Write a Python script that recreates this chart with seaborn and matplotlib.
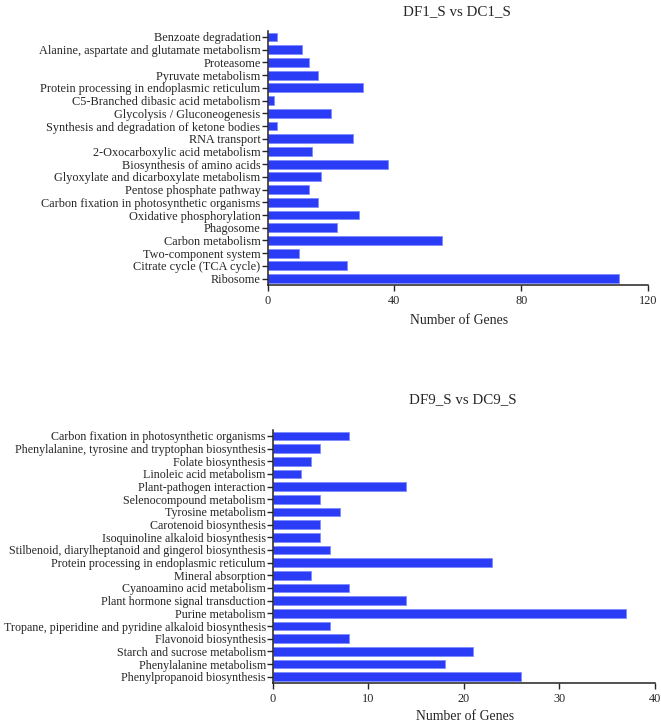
import matplotlib
matplotlib.use("Agg")
import pandas as pd
import seaborn as sns
import matplotlib.pyplot as plt

# top panel: DF1_S vs DC1_S (listed top to bottom)
top_terms = ["Benzoate degradation", "Alanine, aspartate and glutamate metabolism", "Proteasome",
             "Pyruvate metabolism", "Protein processing in endoplasmic reticulum",
             "C5-Branched dibasic acid metabolism", "Glycolysis / Gluconeogenesis",
             "Synthesis and degradation of ketone bodies", "RNA transport",
             "2-Oxocarboxylic acid metabolism", "Biosynthesis of amino acids",
             "Glyoxylate and dicarboxylate metabolism", "Pentose phosphate pathway",
             "Carbon fixation in photosynthetic organisms", "Oxidative phosphorylation",
             "Phagosome", "Carbon metabolism", "Two-component system",
             "Citrate cycle (TCA cycle)", "Ribosome"]
top_counts = [3, 11, 13, 16, 30, 2, 20, 3, 27, 14, 38, 17, 13, 16, 29, 22, 55, 10, 25, 111]

# bottom panel: DF9_S vs DC9_S
bot_terms = ["Carbon fixation in photosynthetic organisms",
             "Phenylalanine, tyrosine and tryptophan biosynthesis", "Folate biosynthesis",
             "Linoleic acid metabolism", "Plant-pathogen interaction", "Selenocompound metabolism",
             "Tyrosine metabolism", "Carotenoid biosynthesis", "Isoquinoline alkaloid biosynthesis",
             "Stilbenoid, diarylheptanoid and gingerol biosynthesis",
             "Protein processing in endoplasmic reticulum", "Mineral absorption",
             "Cyanoamino acid metabolism", "Plant hormone signal transduction", "Purine metabolism",
             "Tropane, piperidine and pyridine alkaloid biosynthesis", "Flavonoid biosynthesis",
             "Starch and sucrose metabolism", "Phenylalanine metabolism",
             "Phenylpropanoid biosynthesis"]
bot_counts = [8, 5, 4, 3, 14, 5, 7, 5, 5, 6, 23, 4, 8, 14, 37, 6, 8, 21, 18, 26]

sns.set_style("ticks")
plt.rcParams['font.family'] = ['Liberation Serif', 'DejaVu Serif']

BLUE = "#2b3cf6"

fig = plt.figure(figsize=(6.61, 7.24), dpi=100)
ax1 = fig.add_axes([0.4047, 0.6064, 0.5756, 0.3513])
ax2 = fig.add_axes([0.4126, 0.0566, 0.5776, 0.3500])


def draw(ax, terms, counts, xmax, ticks, ysize):
    df = pd.DataFrame({"term": terms, "n": counts})
    sns.barplot(data=df, x="n", y="term", orient="h", color=BLUE, width=0.7,
                edgecolor="#7f8cff", linewidth=0.6, saturation=1, ax=ax)
    ax.set_xlim(0, xmax)
    ax.set_ylim(len(terms) - 0.5, -0.5)
    ax.set_xticks(ticks)
    ax.set_xlabel("")
    ax.set_ylabel("")
    sns.despine(ax=ax)
    for s in ["left", "bottom"]:
        ax.spines[s].set_linewidth(1.1)
        ax.spines[s].set_color("#222222")
    ax.tick_params(axis="y", length=4, width=1, labelsize=ysize, pad=1)
    ax.tick_params(axis="x", length=4, width=1, labelsize=8.8, pad=3)


draw(ax1, top_terms, top_counts, 120, [0, 40, 80, 120], 8.85)
draw(ax2, bot_terms, bot_counts, 40, [0, 10, 20, 30, 40], 8.65)

fig.text(457 / 661, 1 - 12 / 724, "DF1_S vs DC1_S", ha="center", va="center", fontsize=10.8)
fig.text(459 / 661, 1 - 320 / 724, "Number of Genes", ha="center", va="center", fontsize=9.9)
fig.text(463 / 661, 1 - 400 / 724, "DF9_S vs DC9_S", ha="center", va="center", fontsize=10.8)
fig.text(465 / 661, 1 - 716 / 724, "Number of Genes", ha="center", va="center", fontsize=9.9)

fig.savefig("out.png", dpi=100)
